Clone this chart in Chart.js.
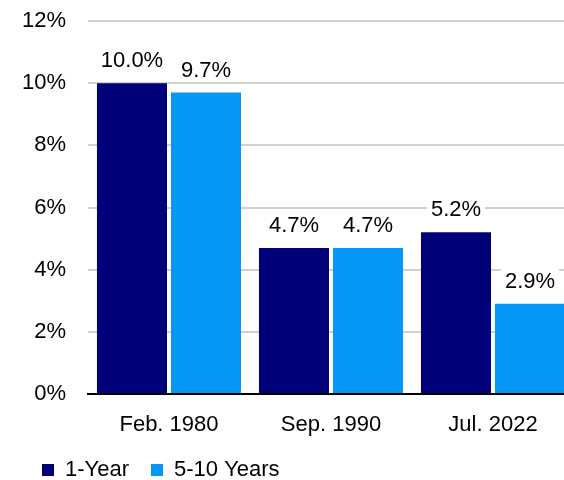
<!DOCTYPE html>
<html>
<head>
<meta charset="utf-8">
<script src="https://cdn.jsdelivr.net/npm/chart.js@4"></script>
<style>
    html, body { margin: 0; padding: 0; background: #fff; overflow: hidden; }
    #wrap { width: 574px; height: 480px; }
</style>
</head>
<body>
<div id="wrap"><canvas id="chart"></canvas></div>
<script>
// Veriler
const categories = ['Feb. 1980', 'Sep. 1990', 'Jul. 2022'];
const oneYear = [10.0, 4.7, 5.2];
const fiveTenYears = [9.7, 4.7, 2.9];
const yTicks = [0, 2, 4, 6, 8, 10, 12];

const FONT = "'Liberation Sans', Arial, sans-serif";

// Bar üstü etiketler (beyaz arka planlı)
const valueLabels = {
    id: 'valueLabels',
    afterDatasetsDraw(chart) {
        const ctx = chart.ctx;
        ctx.save();
        ctx.font = '22px ' + FONT;
        ctx.textAlign = 'center';
        ctx.textBaseline = 'middle';
        chart.data.datasets.forEach((ds, i) => {
            chart.getDatasetMeta(i).data.forEach((bar, j) => {
                const text = ds.data[j].toFixed(1) + '%';
                const w = ctx.measureText(text).width;
                const y = bar.y - 23;
                ctx.fillStyle = '#fff';
                ctx.fillRect(bar.x - w / 2 - 4, y - 12, w + 8, 24);
                ctx.fillStyle = '#000';
                ctx.fillText(text, bar.x, y + 1);
            });
        });
        ctx.restore();
    }
};

// Lejant yüksekliğini küçült (x etiketlerine yaklaşsın)
const legendHeight = {
    id: 'legendHeight',
    beforeInit(chart) {
        const origFit = chart.legend.fit;
        chart.legend.fit = function () {
            origFit.bind(chart.legend)();
            this.height = 43;
        };
    }
};

new Chart(document.getElementById('chart'), {
    type: 'bar',
    data: {
        labels: categories,
        datasets: [
            {
                label: '1-Year',
                data: oneYear,
                backgroundColor: '#000078'
            },
            {
                label: '5-10 Years',
                data: fiveTenYears,
                backgroundColor: '#0597F6'
            }
        ]
    },
    options: {
        responsive: true,
        maintainAspectRatio: false,
        animation: false,
        categoryPercentage: 0.914,
        barPercentage: 0.946,
        layout: { padding: { top: 21, left: 20, right: 0, bottom: 0 } },
        plugins: {
            legend: {
                position: 'bottom',
                align: 'start',
                labels: {
                    boxWidth: 12,
                    boxHeight: 12,
                    padding: 22,
                    color: '#000',
                    font: { family: FONT, size: 22 }
                }
            },
            tooltip: { enabled: false }
        },
        scales: {
            x: {
                grid: { display: false, drawTicks: false },
                border: { color: '#000', width: 2 },
                afterFit: axis => {
                    axis.height = 43;
                },
                ticks: {
                    color: '#000',
                    padding: 18,
                    font: { family: FONT, size: 22 }
                }
            },
            y: {
                min: 0,
                max: 12,
                afterBuildTicks: axis => {
                    axis.ticks = yTicks.map(v => ({ value: v }));
                },
                afterFit: axis => {
                    axis.width = 68;
                    axis.paddingTop = 0;
                    axis.paddingBottom = 0;
                },
                grid: { color: '#D0D0D0', lineWidth: 2, drawTicks: false },
                border: { display: false },
                ticks: {
                    color: '#000',
                    padding: 22,
                    font: { family: FONT, size: 22 },
                    callback: v => v + '%'
                }
            }
        }
    },
    plugins: [valueLabels, legendHeight]
});
</script>
</body>
</html>
